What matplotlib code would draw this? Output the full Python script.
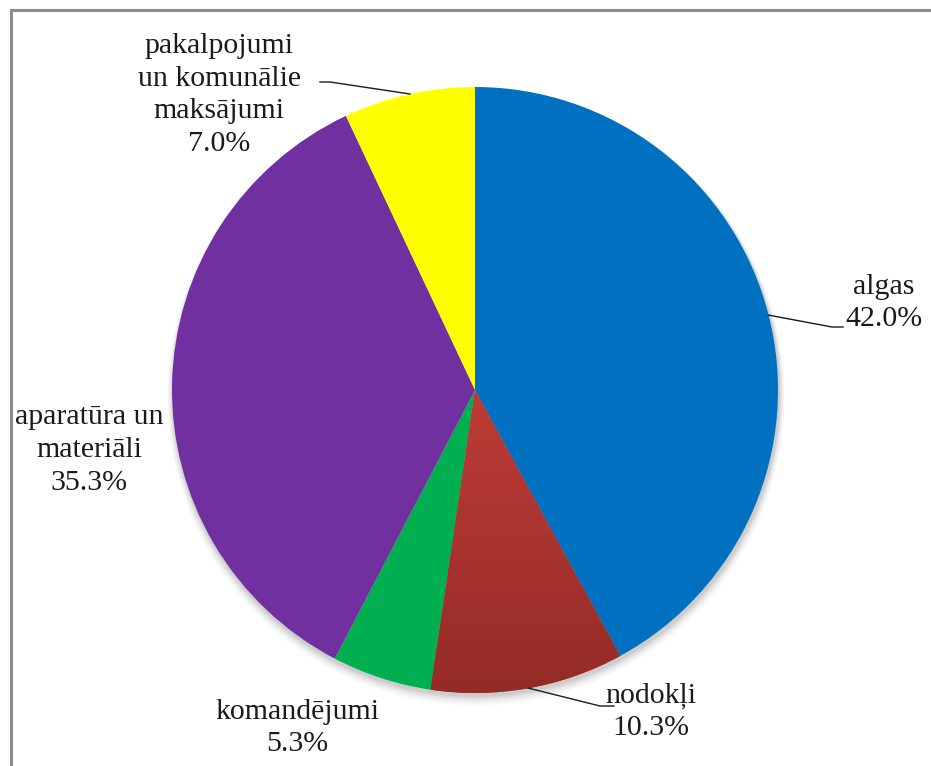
import matplotlib
matplotlib.use("Agg")
import matplotlib.pyplot as plt
import numpy as np
from matplotlib.colors import LinearSegmentedColormap

# Cost structure (percent of total)
categories = ["algas", "nodokļi", "komandējumi", "aparatūra un\nmateriāli",
              "pakalpojumi\nun komunālie\nmaksājumi"]
shares = [42.0, 10.3, 5.3, 35.3, 7.0]
colors = ["#0070C0", "#B5372F", "#00B050", "#7030A0", "#FFFF00"]

W, H = 931, 766
fig = plt.figure(figsize=(W / 100, H / 100), dpi=100)
ax = fig.add_axes([0, 0, 1, 1])
ax.set_xlim(0, W)
ax.set_ylim(0, H)
ax.set_aspect("equal")
ax.axis("off")

cx, cy, r = 475, H - 390, 303

# soft shadow under the pie
for i, a in enumerate(np.linspace(0.05, 0.015, 6)):
    ax.add_patch(plt.Circle((cx + 1, cy - 3 - i * 0.8), r + 1 + i, color="black",
                            alpha=a, lw=0, zorder=0))

wedges, _ = ax.pie(shares, colors=colors, startangle=90, counterclock=False,
                   center=(cx, cy), radius=r, frame=True,
                   wedgeprops=dict(linewidth=0))
for w in wedges:
    w.set_zorder(2)

# vertical gradient on the "nodokļi" wedge
grad = LinearSegmentedColormap.from_list("red", ["#942B27", "#BE3C37"])
img = ax.imshow(np.linspace(0, 1, 256).reshape(-1, 1), cmap=grad, aspect="auto",
                extent=(cx - r, cx + r, cy - r, cy), origin="lower", zorder=3)
img.set_clip_path(wedges[1])
ax.set_xlim(0, W)
ax.set_ylim(0, H)

font = dict(family="Liberation Serif", fontsize=21.5, color="#1a1a1a",
            ha="center", va="center", linespacing=1.33, zorder=5)
label_pos = [(884, H - 303), (651, H - 712), (297, H - 728), (89, H - 450), (219, H - 95)]
for name, val, (tx, ty) in zip(categories, shares, label_pos):
    ax.text(tx, ty, f"{name}\n{val:.1f}%", **font)

# leader lines
leaders = [
    [(768, 315), (832, 327), (843, 327)],
    [(528, 688), (600, 706), (614, 706)],
    [(410, 94), (330, 82), (320, 82)],
]
for pts in leaders:
    xs = [p[0] for p in pts]
    ys = [H - p[1] for p in pts]
    ax.plot(xs, ys, color="#1a1a1a", lw=1.0, zorder=4)

# chart border (top and left visible)
ax.plot([11, 11, W], [0, H - 10, H - 10], color="#8C8C8C", lw=2.2,
        solid_joinstyle="miter", zorder=6)

fig.savefig("out.png", dpi=100)
